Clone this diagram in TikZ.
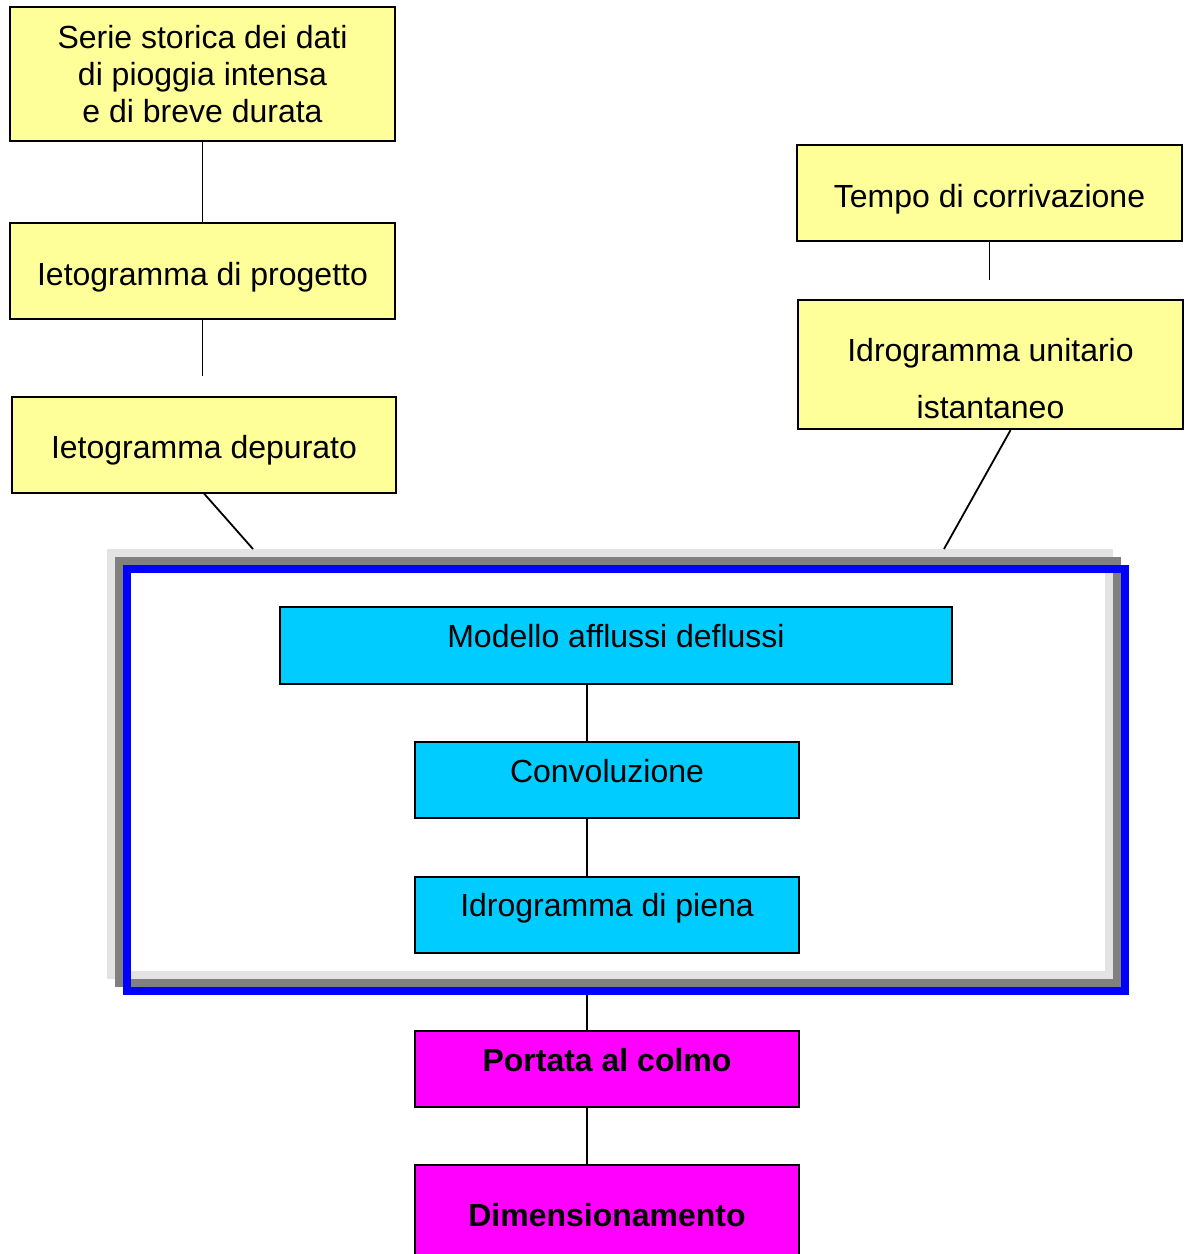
\documentclass[tikz,border=0pt]{standalone}
\usepackage{fontspec}
\setmainfont{Liberation Sans}
\definecolor{boxyellow}{RGB}{255,255,153}
\definecolor{boxcyan}{RGB}{0,204,255}
\definecolor{boxmagenta}{RGB}{255,0,255}
\definecolor{shadelight}{RGB}{227,227,227}
\definecolor{shadedark}{RGB}{128,128,128}
\definecolor{frameblue}{RGB}{0,0,255}
\usetikzlibrary{positioning}
\tikzset{
  boxfont/.style={font=\fontsize{32pt}{37pt}\selectfont},
  ybox/.style={draw,rectangle,line width=1.8pt,fill=boxyellow,minimum width=385,minimum height=96,boxfont,align=center,text height=28pt,text depth=0pt},
  cbox/.style={draw,rectangle,line width=1.8pt,fill=boxcyan,minimum width=384,minimum height=76,boxfont,text height=22pt,text depth=18pt},
  mbox/.style={draw,rectangle,line width=1.8pt,fill=boxmagenta,minimum width=384,minimum height=76,font={\bfseries\fontsize{32pt}{37pt}\selectfont},text height=22pt,text depth=16pt},
  modframe/.style={draw,rectangle,line width=8pt,minimum width=998,minimum height=422},
  link/.style={line width=1.8pt},
}
\begin{document}
\begin{tikzpicture}[x=1pt,y=-1pt]
        \useasboundingbox (0,0) rectangle (1189,1254);

        % shadow of the model frame
        \node[modframe,draw=shadelight]    (shadeB) at (610,764)    {};
        \node[modframe,draw=shadedark]     (shadeA) at (618,772)    {};
        \node[modframe,draw=frameblue]     (frame)  at (626,780)    {};

        % rainfall side
        \node[ybox,minimum height=134,text height=,text depth=]    (serie) at (202.5,74)    {Serie storica dei dati\\di pioggia intensa\\e di breve durata};
        \node[ybox]    (prog) [below=80.5pt of serie]    {Ietogramma di progetto};
        \node[ybox,minimum width=384,xshift=1.5pt]    (dep) [below=75.5pt of prog]    {Ietogramma depurato};

        % catchment side
        \node[ybox]    (tempo) at (989.5,193)    {Tempo di corrivazione};
        \node[ybox,minimum height=129,text height=,text depth=,font=\fontsize{32pt}{57pt}\selectfont,xshift=1pt]    (iui) [below=57.5pt of tempo]    {\rule{0pt}{50pt}Idrogramma unitario\\istantaneo};

        % inside the frame
        \node[cbox,minimum width=672,minimum height=77]    (modello) at (616,645.5)    {Modello afflussi deflussi};
        \node[cbox,xshift=-9pt]    (conv) [below=56.5pt of modello]    {Convoluzione};
        \node[cbox]    (piena) [below=56.5pt of conv]    {Idrogramma di piena};

        % results
        \node[mbox]    (portata) [below=76.5pt of piena]    {Portata al colmo};
        \node[mbox,minimum height=116]    (dim) [below=56.5pt of portata]    {Dimensionamento};

        \coordinate (spine) at (587,0);
        \coordinate (depfoot) at (253,549);
        \coordinate (iuifoot) at (944,549);

        \draw[link] (serie.south) -- (prog.north);
        \draw[link] (prog.south) -- ([yshift=20pt]dep.north -| prog.south);
        \draw[link] (dep.south) -- (depfoot);
        \draw[link] (tempo.south) -- ([yshift=19pt]iui.north -| tempo.south);
        \draw[link] ([xshift=20pt]iui.south) -- (iuifoot);
        \draw[link] (modello.south -| spine) -- (conv.north -| spine);
        \draw[link] (conv.south -| spine) -- (piena.north -| spine);
        \draw[link] (frame.south -| spine) -- (portata.north -| spine);
        \draw[link] (portata.south -| spine) -- (dim.north -| spine);

    \end{tikzpicture}
\end{document}
